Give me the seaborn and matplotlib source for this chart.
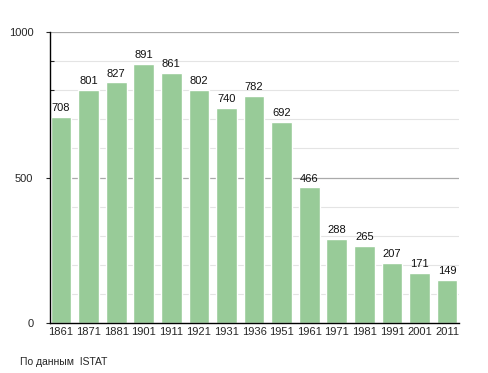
import matplotlib
matplotlib.use("Agg")
import matplotlib.pyplot as plt
import pandas as pd
import seaborn as sns
from matplotlib.ticker import MultipleLocator

years = ["1861", "1871", "1881", "1901", "1911", "1921", "1931", "1936",
         "1951", "1961", "1971", "1981", "1991", "2001", "2011"]
population = [708, 801, 827, 891, 861, 802, 740, 782, 692, 466, 288, 265, 207, 171, 149]
source_note = "По данным  ISTAT"

sns.set_style("white")
plt.rcParams["font.family"] = ["Liberation Sans", "DejaVu Sans"]

df = pd.DataFrame({"year": years, "pop": population})

fig = plt.figure(figsize=(4.88, 3.73), dpi=100)
ax = fig.add_axes([0.1025, 0.134, 0.8381, 0.780])

# grid lines behind the bars
for v in range(100, 1001, 100):
    if v % 500 == 0:
        ax.axhline(v, color="#aaaaaa", lw=0.9, zorder=0)
    else:
        ax.axhline(v, color="#e4e4e4", lw=0.8, zorder=0)

sns.barplot(data=df, x="year", y="pop", color="#98cb98", saturation=1,
            width=0.75, ax=ax, zorder=2)

for i, v in enumerate(population):
    ax.text(i, v + 13, str(v), ha="center", va="bottom", fontsize=8, color="#111111")

ax.set_xlim(-0.4, len(years) - 0.57)
ax.set_ylim(0, 1000)
ax.set_yticks([0, 500, 1000])
ax.yaxis.set_minor_locator(MultipleLocator(100))
ax.tick_params(axis="y", which="major", direction="out", length=3, width=0.8,
               labelsize=8, pad=9, left=True)
ax.tick_params(axis="y", which="minor", direction="in", length=3, width=0.8, left=True)
ax.tick_params(axis="x", length=0, labelsize=8, pad=3)
ax.set_xlabel("")
ax.set_ylabel("")

for s in ["top", "right"]:
    ax.spines[s].set_visible(False)
ax.spines["left"].set_color("black")
ax.spines["bottom"].set_color("black")
ax.spines["left"].set_linewidth(1.0)
ax.spines["bottom"].set_linewidth(1.0)

fig.text(20 / 488, 1 - 362 / 373, source_note, fontsize=7.5, va="center", ha="left")

fig.savefig("out.png", dpi=100)
